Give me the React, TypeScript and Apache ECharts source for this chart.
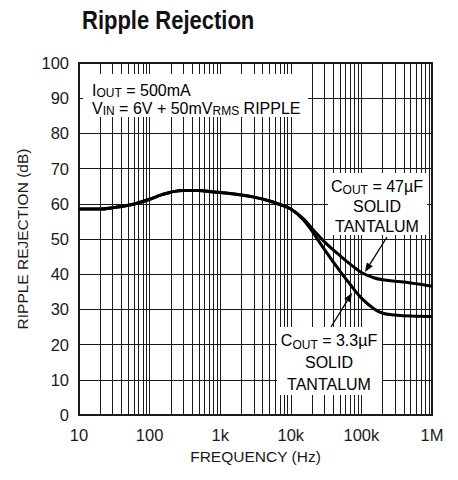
import React, { useEffect, useRef } from "react";
import * as echarts from "echarts";

const freqs = [10, 20, 30, 50, 70, 100, 150, 200, 300, 500, 700, 1000, 2000, 3000, 5000, 7000, 10000, 15000, 20000, 30000, 50000, 70000, 100000, 150000, 200000, 300000, 500000, 1000000];
const rr47uF = [58.5, 58.5, 58.9, 59.6, 60.3, 61.3, 62.6, 63.3, 63.8, 63.8, 63.5, 63.2, 62.5, 61.9, 60.8, 59.8, 58.5, 55.8, 53.0, 49.2, 45.2, 42.8, 40.5, 39.0, 38.4, 38.0, 37.5, 36.6];
const rr3u3F = [58.5, 58.5, 58.9, 59.6, 60.3, 61.3, 62.6, 63.3, 63.8, 63.8, 63.5, 63.2, 62.5, 61.9, 60.8, 59.8, 58.5, 55.5, 52.2, 47.0, 40.8, 37.0, 33.2, 30.2, 28.9, 28.4, 28.1, 28.0];
const xTickValues = [10, 100, 1000, 10000, 100000, 1000000];
const xTickLabels = ["10", "100", "1k", "10k", "100k", "1M"];
const minorMultipliers = [2, 3, 4, 5, 6, 7, 8, 9];
const minorDecades = [10, 100, 1000, 10000, 100000];

const FONT = "'Liberation Sans', Arial, sans-serif";
const INK = "#1a1a1a";

export default function App() {
  const ref = useRef<HTMLDivElement>(null);
  useEffect(() => {
    document.body.style.margin = "0";
    const chart = echarts.init(ref.current!, null, { renderer: "svg" });
    const minorLines: any[] = [];
    minorDecades.forEach((d) => minorMultipliers.forEach((m) => minorLines.push({ xAxis: d * m })));
    const rich = {
      n: { fontFamily: FONT, fontSize: 16, lineHeight: 18, color: INK, verticalAlign: "middle" },
      s: { fontFamily: FONT, fontSize: 12, lineHeight: 14, color: INK, verticalAlign: "bottom" },
    };
    const rich2 = {
      n: { fontFamily: FONT, fontSize: 16, lineHeight: 20, color: INK, verticalAlign: "middle" },
      s: { fontFamily: FONT, fontSize: 12, lineHeight: 14, color: INK, verticalAlign: "bottom" },
    };
    const rich3 = {
      n: { fontFamily: FONT, fontSize: 16, lineHeight: 22, color: INK, verticalAlign: "middle" },
      s: { fontFamily: FONT, fontSize: 12, lineHeight: 16, color: INK, verticalAlign: "bottom" },
    };
    const option: any = {
      animation: false,
      grid: { left: 79, top: 63, right: 26, bottom: 65, show: true, borderColor: INK, borderWidth: 2, backgroundColor: "transparent" },
      xAxis: {
        type: "log",
        logBase: 10,
        min: 10,
        max: 1000000,
        splitNumber: 5,
        axisLine: { show: true, lineStyle: { color: INK, width: 2 } },
        axisTick: { show: false },
        splitLine: { show: true, lineStyle: { color: INK, width: 1 } },
        axisLabel: {
          fontFamily: FONT,
          fontSize: 16.5,
          color: INK,
          margin: 11,
          formatter: (v: number) => {
            const i = xTickValues.findIndex((t) => Math.abs(Math.log10(t) - Math.log10(v)) < 1e-6);
            return i >= 0 ? xTickLabels[i] : "";
          },
        },
        name: "FREQUENCY (Hz)",
        nameLocation: "middle",
        nameGap: 33,
        nameTextStyle: { fontFamily: FONT, fontSize: 15.5, color: INK },
      },
      yAxis: {
        type: "value",
        min: 0,
        max: 100,
        interval: 10,
        axisLine: { show: true, lineStyle: { color: INK, width: 2 } },
        axisTick: { show: false },
        splitLine: { show: true, lineStyle: { color: INK, width: 1 } },
        axisLabel: { fontFamily: FONT, fontSize: 16.5, color: INK, margin: 10 },
        name: "RIPPLE REJECTION (dB)",
        nameLocation: "middle",
        nameGap: 49,
        nameTextStyle: { fontFamily: FONT, fontSize: 15.5, color: INK },
      },
      series: [
        {
          type: "line",
          name: "minor",
          data: [],
          silent: true,
          z: 1,
          markLine: {
            silent: true,
            symbol: ["none", "none"],
            label: { show: false },
            lineStyle: { color: INK, width: 1, type: "solid" },
            emphasis: { disabled: true },
            data: minorLines,
          },
        },
        {
          type: "line",
          name: "COUT = 47uF",
          data: freqs.map((f, i) => [f, rr47uF[i]]),
          smooth: 0.4,
          showSymbol: false,
          symbol: "none",
          lineStyle: { color: "#000", width: 3 },
          z: 5,
        },
        {
          type: "line",
          name: "COUT = 3.3uF",
          data: freqs.map((f, i) => [f, rr3u3F[i]]),
          smooth: 0.4,
          showSymbol: false,
          symbol: "none",
          lineStyle: { color: "#000", width: 3 },
          z: 5,
        },
      ],
      graphic: [
        {
          type: "text",
          x: 82,
          y: 8,
          scaleX: 0.88,
          style: { text: "Ripple Rejection", fontFamily: FONT, fontSize: 25, fontWeight: "bold", fill: "#111", align: "left", verticalAlign: "top" },
        },
        { type: "rect", z: 100, shape: { x: 83, y: 74, width: 225, height: 43 }, style: { fill: "#fff" } },
        { type: "rect", z: 100, shape: { x: 328, y: 173, width: 99, height: 62 }, style: { fill: "#fff" } },
        { type: "rect", z: 100, shape: { x: 277, y: 327, width: 105, height: 68 }, style: { fill: "#fff" } },
        {
          type: "text",
          z: 101,
          x: 92,
          y: 81,
          style: {
            text: "{n|I}{s|OUT}{n| = 500mA}\n{n|V}{s|IN}{n| = 6V + 50mV}{s|RMS}{n| RIPPLE}",
            rich,
            align: "left",
            verticalAlign: "top",
          },
        },
        {
          type: "text",
          z: 101,
          x: 377,
          y: 176,
          style: {
            text: "{n|C}{s|OUT}{n| = 47µF}\n{n|SOLID}\n{n|TANTALUM}",
            rich: rich2,
            align: "center",
            verticalAlign: "top",
          },
        },
        {
          type: "text",
          z: 101,
          x: 329,
          y: 329,
          style: {
            text: "{n|C}{s|OUT}{n| = 3.3µF}\n{n|SOLID}\n{n|TANTALUM}",
            rich: rich3,
            align: "center",
            verticalAlign: "top",
          },
        },
        { type: "line", z: 102, shape: { x1: 387, y1: 237, x2: 369.8, y2: 264.4 }, style: { stroke: "#000", lineWidth: 1.3 } },
        { type: "polygon", z: 102, shape: { points: [[365, 272], [372.8, 266.3], [366.8, 262.5]] }, style: { fill: "#000" } },
        { type: "line", z: 102, shape: { x1: 331, y1: 327, x2: 347.3, y2: 300.6 }, style: { stroke: "#000", lineWidth: 1.3 } },
        { type: "polygon", z: 102, shape: { points: [[352, 293], [350.3, 302.4], [344.3, 298.7]] }, style: { fill: "#000" } },
      ],
    };
    chart.setOption(option);
    return () => chart.dispose();
  }, []);
  return <div ref={ref} style={{ width: 458, height: 480 }} />;
}
